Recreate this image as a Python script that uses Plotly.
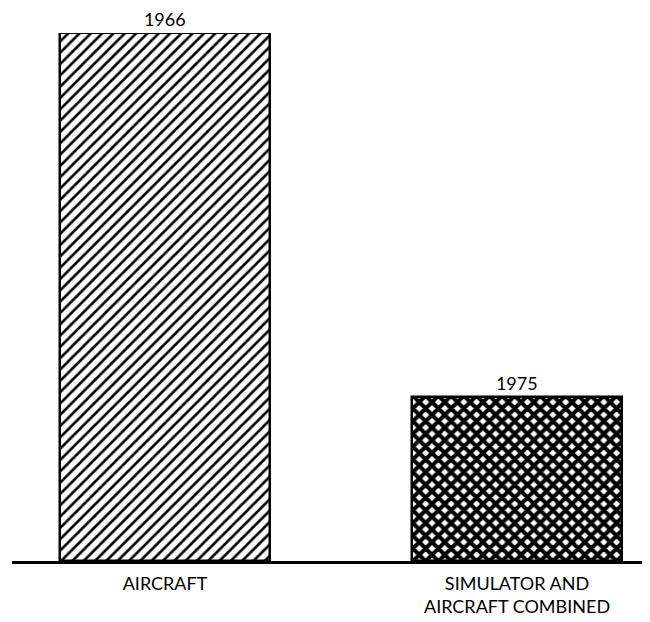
import plotly.graph_objects as go

categories = ["AIRCRAFT", "SIMULATOR AND<br>AIRCRAFT COMBINED"]
years = ["1966", "1975"]
values = [100, 31]
patterns = ["/", "x"]

x_pos = list(range(len(categories)))

fig = go.Figure()
fig.add_trace(go.Bar(
    x=x_pos,
    y=values,
    width=0.597,
    text=years,
    textposition="outside",
    constraintext="none",
    cliponaxis=False,
    textfont=dict(family="Lato", size=18, color="black"),
    marker=dict(
        color="white",
        line=dict(color="black", width=2.5),
        pattern=dict(shape=patterns, fgcolor="black", bgcolor="white",
                     fgopacity=1, size=[8, 9], solidity=[0.33, 0.7]),
    ),
    showlegend=False,
    hoverinfo="skip",
))

fig.update_layout(
    width=650, height=622,
    margin=dict(l=4, r=8, t=25, b=69, autoexpand=False),
    paper_bgcolor="white", plot_bgcolor="white",
    bargap=0,
)
fig.update_xaxes(
    range=[-0.4347, 1.3778],
    tickvals=x_pos, ticktext=categories,
    showline=True, linecolor="black", linewidth=3,
    showgrid=False, zeroline=False, ticks="",
    tickfont=dict(family="Lato", size=18, color="black"),
    ticklabelstandoff=4,
    automargin=False,
)
fig.update_yaxes(range=[0, 100], visible=False)

fig.write_html("out.html")
